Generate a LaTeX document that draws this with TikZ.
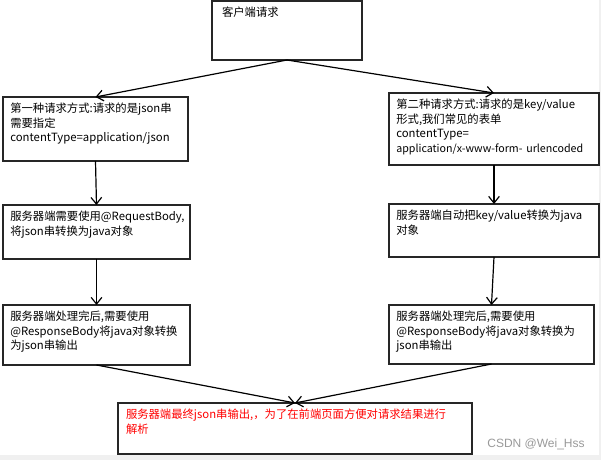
\documentclass[tikz,border=0pt]{standalone}
\usepackage{fontspec}
\setmainfont{Noto Sans CJK SC}
\newfontfamily\markfont{Liberation Sans}
\usetikzlibrary{arrows.meta}

\begin{document}
\begin{tikzpicture}[
    x=0.75pt,
    y=-0.75pt,
    >={Straight Barb[length=5pt,width=8pt]},
    reqbox/.style={
        draw=black!85,
        line width=1.2pt,
        rectangle,
        anchor=north west,
        outer sep=0pt,
        inner xsep=5.5pt,
        inner ysep=4.2pt,
        align=left,
        text height=7.5pt,
        font=\fontsize{8.5pt}{10.9pt}\selectfont
    },
    flow/.style={->, line width=0.9pt}
]
\useasboundingbox (0,0) rectangle (601,460);
\fill[black!6] (0,455) rectangle (601,460);
\fill[black!6] (599,0) rectangle (601,455);

% boxes
\node[reqbox, inner xsep=7.5pt, text width=97.5pt, text depth=28.35pt] (client) at (212,1) {客户端请求};
\node[reqbox, text width=127.75pt, text depth=32.1pt] (jsonreq) at (3,97)
    {第一种请求方式:请求的是json串\\需要指定\\contentType=application/json};
\node[reqbox, text width=146.5pt, text depth=38.1pt] (formreq) at (389,93)
    {第二种请求方式:请求的是key/value\\形式,我们常见的表单\\contentType=\\{\fontsize{8pt}{10.9pt}\selectfont\mbox{application/x-www-form- urlencoded}}};
\node[reqbox, text width=129.25pt, text depth=24.6pt] (jsonin) at (3,205)
    {服务器端需要使用@RequestBody,\\将json串转换为java对象};
\node[reqbox, text width=146.5pt, text depth=23.85pt] (formin) at (389,204)
    {服务器端自动把key/value转换为java\\对象};
\node[reqbox, text width=129.25pt, text depth=29.1pt] (jsonout) at (3,305)
    {服务器端处理完后,需要使用\\@ResponseBody将java对象转换\\为json串输出};
\node[reqbox, text width=142.75pt, text depth=28.35pt] (formout) at (389,305)
    {服务器端处理完后,需要使用\\@ResponseBody将java对象转换为\\json串输出};
\node[reqbox, inner xsep=6pt, text width=253.5pt, text depth=22.35pt, text=red] (result) at (118,403)
    {服务器端最终json串输出,，为了在前端页面方便对请求结果进行\\解析};
\node[text=black!40, font=\markfont\fontsize{9pt}{10pt}\selectfont] (mark) at (536,444) {CSDN @Wei\_Hss};

% arrows
\path[flow]
(client.south) edge (jsonreq.north)
(client.south) edge (formreq.north)
(jsonreq.south) edge (jsonin.north)
(formreq.south) edge (formin.north)
(jsonin.south) edge (jsonout.north)
(formin.south) edge (formout.north)
(jsonout.south) edge (result.north)
(formout.south) edge (result.north);
\end{tikzpicture}
\end{document}
